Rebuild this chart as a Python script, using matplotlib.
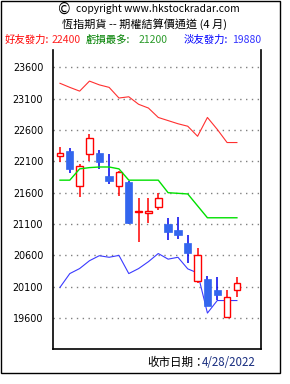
"""HSI futures -- option settlement price channel (April), candles + 3 channel lines."""
import matplotlib
matplotlib.use("Agg")
import matplotlib.pyplot as plt
from matplotlib.patches import Rectangle

plt.rcParams["font.family"] = ["Noto Sans CJK TC", "DejaVu Sans"]

# daily candles (open, high, low, close)
opens = [22190, 22265, 21702, 22212, 22233, 21866, 21702, 21776, 21290, 21271,
         21377, 21101, 21005, 20802, 20196, 20219, 20048, 19622, 20043]
highs = [22334, 22313, 22058, 22536, 22281, 22217, 21940, 21790, 21510, 21520,
         21600, 21192, 21217, 20925, 20713, 20276, 20260, 20048, 20251]
lows = [22085, 21909, 21536, 22105, 21983, 21734, 21552, 21096, 20816, 21112,
        21324, 20846, 20857, 20474, 20164, 19790, 19888, 19620, 19941]
closes = [22233, 21983, 22026, 22468, 22082, 21791, 21925, 21121, 21310, 21308,
          21510, 20978, 20920, 20643, 20601, 19793, 19973, 19932, 20155]

# channel lines
bull_line = [23345, 23280, 23220, 23380, 23320, 23280, 23110, 23130, 23010, 22950,
             22800, 22750, 22700, 22660, 22500, 22800, 22610, 22400, 22400]
loss_line = [21800, 21800, 21980, 22000, 22010, 22010, 21980, 21800, 21800, 21800,
             21800, 21600, 21590, 21580, 21390, 21200, 21200, 21200, 21200]
bear_line = [20090, 20310, 20390, 20515, 20595, 20570, 20600, 20310, 20390, 20500,
             20630, 20540, 20570, 20385, 20320, 19680, 19880, 19880, 19880]

y_ticks = [19600, 20100, 20600, 21100, 21600, 22100, 22600, 23100, 23600]
bull_val, loss_val, bear_val = "22400", "21200", "19880"
close_date = "4/28/2022"

W, H = 290, 384
fig = plt.figure(figsize=(W / 100, H / 100), dpi=100)
ax = fig.add_axes([53 / W, 1 - 349 / H, (260.5 - 53) / W, (349 - 50) / H])

xs = list(range(len(opens)))
red, blue_body, blue_wick = "#ff0000", "#3366ee", "#0000ee"

ax.plot(xs, bear_line, color="#3a3aff", lw=0.8, zorder=1)
for x, o, h, l, c in zip(xs, opens, highs, lows, closes):
    up = c >= o
    wc = red if up else blue_wick
    ax.vlines(x, l, h, color=wc, lw=1.1, zorder=2)
    lo, hi = min(o, c), max(o, c)
    if up:
        ax.add_patch(Rectangle((x - 0.33, lo), 0.66, hi - lo, facecolor="white",
                               edgecolor=red, lw=1.0, zorder=3))
    else:
        ax.add_patch(Rectangle((x - 0.37, lo), 0.74, hi - lo, facecolor=blue_body,
                               edgecolor=blue_body, lw=0.5, zorder=3))
ax.plot(xs, loss_line, color="#00e000", lw=1.0, zorder=4)
ax.plot(xs, bull_line, color="#ff3030", lw=0.8, zorder=4)

ax.set_xlim(-0.71, 20.4)
ax.set_ylim(19107, 23876)
ax.set_yticks(y_ticks)
ax.set_yticklabels([str(t) for t in y_ticks], fontsize=6.9, family="DejaVu Sans")
ax.tick_params(axis="y", length=0, pad=7)
ax.set_xticks([])
for t in y_ticks:
    ax.axhline(t, color="#808080", lw=1.0, ls=(0, (1, 3.2)), zorder=0)
ax.spines["top"].set_visible(False)
for s in ("left", "right", "bottom"):
    ax.spines[s].set_linewidth(1.2)

# outer frame
fig.patches.append(Rectangle((1 / W, 1 - 373 / H), 279 / W, 372 / H, transform=fig.transFigure,
                             fill=False, edgecolor="black", lw=1.0))

# header
fig.text(64 / W, 1 - 9 / H, "\u00a9", fontsize=10.5, ha="center", va="center",
         family="DejaVu Sans")
fig.text(76 / W, 1 - 9 / H, "copyright www.hkstockradar.com", fontsize=7.4,
         ha="left", va="center")
fig.text(145 / W, 1 - 24 / H, "恆指期貨 -- 期權結算價通道 (4 月)", fontsize=8,
         ha="center", va="center")
legend_items = [("好友發力:", bull_val, 5, 52, "#ff0000", "#ff2020"),
                ("虧損最多:", loss_val, 86, 139, "#008000", "#2a9a2a"),
                ("淡友發力:", bear_val, 184, 232, "#0000ff", "#3333ff")]
for lab, val, x0, x1, c0, c1 in legend_items:
    fig.text(x0 / W, 1 - 40 / H, lab, fontsize=7.5, ha="left", va="center", color=c0)
    fig.text(x1 / W, 1 - 40 / H, val, fontsize=7.5, ha="left", va="center", color=c1)

# footer
fig.text(205 / W, 1 - 362 / H, "收市日期：", fontsize=8.3, ha="right", va="center")
fig.text(202 / W, 1 - 362 / H, close_date, fontsize=8.3, ha="left", va="center",
         color="#1a2f80")

fig.savefig("out.png", dpi=100)
